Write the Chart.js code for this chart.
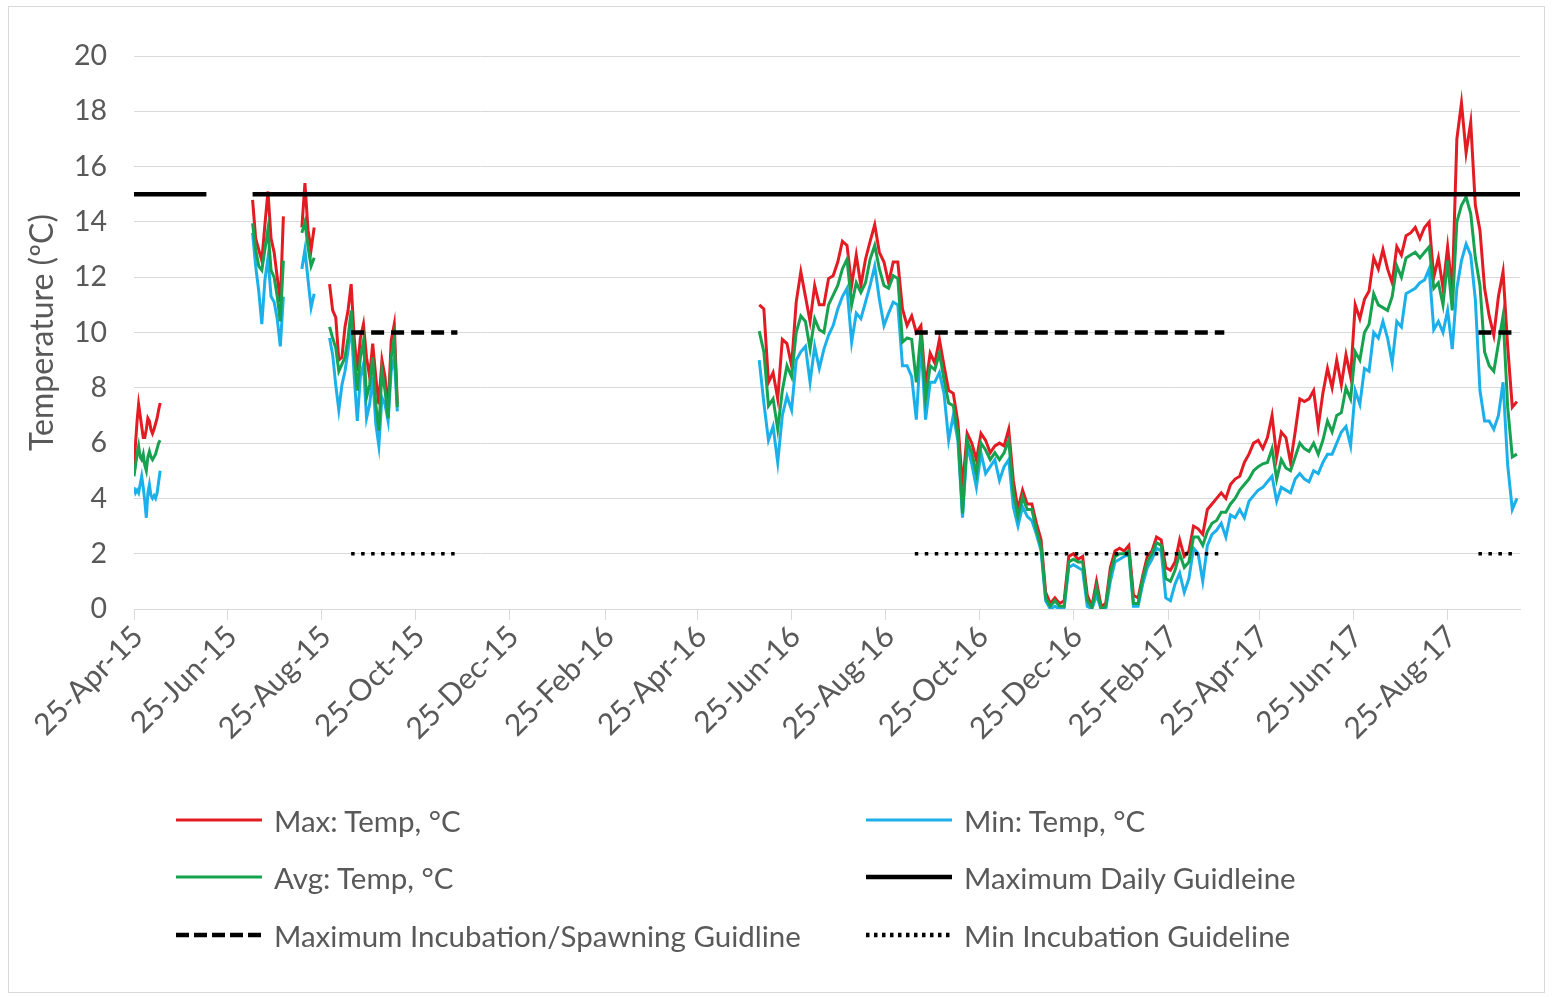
<!DOCTYPE html>
<html><head><meta charset="utf-8">
<script src="https://cdn.jsdelivr.net/npm/chart.js@4.4.0/dist/chart.umd.min.js"></script>
<style>
html,body{margin:0;padding:0;background:#fff;}
#frame{position:absolute;left:8px;top:6px;width:1537px;height:987px;border:1px solid #d9d9d9;box-sizing:border-box;}
canvas{position:absolute;left:0;top:0;}
.leg{position:absolute;display:flex;align-items:center;height:40px;font-family:Lato,sans-serif;font-size:29.5px;color:#595959;white-space:nowrap;}
.leg svg{margin-right:12px;flex:none;}
</style></head><body>
<div id="frame"></div>
<canvas id="c" width="1553" height="997"></canvas>
<div id="legend"></div>
<script>
// x values are days since 25-Apr-2015
const tickDays = [0,61,122,183,244,306,366,427,488,549,610,672,731,792,853];
const tickLabels = ['25-Apr-15','25-Jun-15','25-Aug-15','25-Oct-15','25-Dec-15','25-Feb-16','25-Apr-16','25-Jun-16','25-Aug-16','25-Oct-16','25-Dec-16','25-Feb-17','25-Apr-17','25-Jun-17','25-Aug-17'];
const yTicks = [0,2,4,6,8,10,12,14,16,18,20];

// logger segments: first day and sampling step (days)
const segStart = [0, 77, 109, 127, 406];
const segStep  = [1, 2, 2, 2, 3];

const maxTemp = [
 [5.1,6.0,6.8,7.4,7.0,6.6,6.2,6.2,6.5,6.9,6.8,6.5,6.35,6.5,6.7,6.9,7.2,7.45],
 [14.8,13.4,13.0,12.6,13.9,15.1,13.4,12.9,12.0,11.1,14.2],
 [13.8,15.4,13.7,13.0,13.8],
 [11.75,10.8,10.55,9.0,9.1,10.2,10.8,11.75,9.8,8.6,9.8,10.3,9.1,8.4,9.6,8.4,7.4,9.0,8.4,7.15,9.7,10.3,7.4],
 [11.0,10.85,8.2,8.55,7.6,9.75,9.6,8.8,11.1,12.2,
  11.3,10.4,11.7,11.0,11.0,11.95,12.05,12.55,13.3,13.15,
  11.7,12.8,11.7,12.65,13.3,13.9,12.9,12.55,11.8,12.55,
  12.55,10.85,10.25,10.6,10.0,10.25,8.05,9.25,8.9,9.75,
  8.8,7.9,7.8,6.75,4.4,6.35,6.0,5.4,6.35,6.1,
  5.65,5.9,6.0,5.9,6.5,4.65,3.6,4.3,3.8,3.8,
  3.1,2.5,0.6,0.2,0.4,0.2,0.3,1.9,2.0,1.8,
  1.9,0.5,0.1,1.0,0.1,0.2,1.5,2.1,2.2,2.1,
  2.3,0.5,0.4,1.2,1.9,2.1,2.6,2.5,1.5,1.4,
  1.7,2.5,1.9,2.1,3.0,2.9,2.7,3.6,3.8,4.0,
  4.2,4.0,4.5,4.7,4.8,5.3,5.6,6.0,6.1,5.8,
  6.2,7.0,5.5,6.4,6.2,5.3,6.4,7.6,7.5,7.6,
  7.9,6.6,7.8,8.7,8.0,9.0,8.1,9.2,8.4,11.0,
  10.5,11.2,11.5,12.7,12.3,13.0,12.3,11.8,13.1,12.8,
  13.5,13.6,13.8,13.4,13.8,14.0,12.0,12.7,11.6,13.1,
  11.5,17.0,18.3,16.5,17.6,14.6,13.7,11.6,10.6,9.9,
  11.3,12.2,9.5,7.3,7.5]
];
const minTemp = [
 [4.4,4.2,4.3,4.2,4.5,4.8,4.4,3.9,3.3,4.2,4.5,4.1,4.0,4.1,4.0,4.2,4.6,5.0],
 [13.6,12.4,11.5,10.3,11.9,12.7,11.3,11.1,10.5,9.5,11.3],
 [12.3,13.0,11.9,10.9,11.4],
 [9.8,9.2,8.1,7.2,8.1,8.6,9.35,10.3,8.4,6.8,8.4,8.85,6.9,7.4,8.4,6.7,5.9,7.65,7.4,6.8,8.6,9.1,7.15],
 [9.0,7.45,6.1,6.6,5.3,7.0,7.7,7.2,9.0,9.3,
  9.5,8.2,9.5,8.7,9.4,9.9,10.25,10.85,11.3,11.6,
  9.65,10.7,10.5,11.1,11.7,12.4,11.2,10.25,10.7,11.1,
  11.0,8.8,8.8,8.4,6.85,9.65,6.85,8.2,8.2,8.55,
  7.8,6.1,7.0,6.1,3.3,5.9,5.25,4.4,5.65,4.9,
  5.15,5.4,4.65,5.15,5.4,3.7,3.0,3.7,3.35,3.2,
  2.7,2.1,0.3,0.0,0.1,0.0,0.05,1.5,1.6,1.5,
  1.4,0.1,0.0,0.5,0.0,0.0,1.0,1.7,1.8,1.9,
  2.0,0.1,0.1,0.9,1.5,1.8,2.2,2.1,0.4,0.3,
  0.9,1.3,0.6,1.1,2.2,2.0,1.0,2.3,2.7,2.85,
  3.1,2.6,3.4,3.3,3.6,3.3,3.9,4.1,4.3,4.4,
  4.6,4.8,3.9,4.4,4.3,4.2,4.7,4.9,4.7,4.6,
  5.0,4.9,5.3,5.6,5.6,6.0,6.4,6.6,5.9,7.9,
  7.4,8.7,8.6,10.0,9.8,10.4,9.8,8.9,10.4,10.2,
  11.4,11.5,11.6,11.8,11.9,12.3,10.1,10.4,10.0,10.8,
  9.4,11.6,12.6,13.2,12.8,11.2,7.9,6.8,6.8,6.5,
  7.0,8.2,5.2,3.6,4.0]
];
const avgTemp = [
 [4.8,5.2,5.6,5.9,5.5,5.4,5.6,5.2,5.0,5.5,5.7,5.5,5.4,5.5,5.6,5.8,6.0,6.1],
 [13.95,13.0,12.4,12.25,13.0,13.75,12.25,12.0,11.3,10.4,12.6],
 [13.6,14.0,13.1,12.4,12.7],
 [10.2,9.8,9.45,8.6,8.85,9.1,9.8,10.8,9.2,7.9,9.1,9.7,7.65,8.1,9.1,7.4,6.45,8.6,7.9,6.9,9.1,9.8,7.3],
 [10.05,9.3,7.35,7.6,6.5,7.9,8.8,8.4,10.0,10.6,
  10.4,9.4,10.5,10.1,10.0,11.0,11.35,11.7,12.3,12.65,
  11.0,11.8,11.45,11.8,12.65,13.15,12.3,11.7,11.6,12.05,
  11.95,9.65,9.8,9.75,8.2,10.0,7.6,8.8,8.65,9.25,
  8.3,7.45,7.35,6.35,3.45,6.1,5.65,4.9,6.0,5.75,
  5.4,5.65,5.4,5.65,6.1,4.2,3.35,4.05,3.6,3.6,
  2.85,2.25,0.4,0.1,0.3,0.1,0.1,1.7,1.8,1.7,
  1.7,0.3,0.05,0.8,0.0,0.1,1.3,1.9,2.0,2.0,
  2.1,0.2,0.2,1.1,1.7,2.0,2.4,2.3,1.1,1.0,
  1.4,2.0,1.5,1.7,2.6,2.6,2.3,2.8,3.1,3.2,
  3.5,3.5,3.8,4.0,4.3,4.5,4.7,5.0,5.15,5.25,
  5.3,5.8,4.7,5.4,5.1,5.0,5.5,6.0,5.8,5.7,
  6.0,5.6,6.1,6.8,6.4,7.0,7.1,8.0,7.6,9.3,
  9.0,10.0,10.3,11.4,11.0,10.9,10.8,11.3,12.4,12.0,
  12.7,12.8,12.9,12.7,12.9,13.1,11.6,11.8,11.0,12.6,
  10.8,14.0,14.6,14.9,14.3,12.7,11.7,9.3,8.8,8.6,
  9.6,10.6,7.3,5.5,5.6]
];

// guidelines
const maxDailyGuide = 15;
const maxDailyPeriods = [[0,47],[77,900]];
const maxIncubationGuide = 10;
const minIncubationGuide = 2;
const incubationPeriods = [[141,210],[507,708],[873,897]];

const seriesLabels = ['Max: Temp, °C','Min: Temp, °C','Avg: Temp, °C','Maximum Daily Guidleine','Maximum Incubation/Spawning Guidline','Min Incubation Guideline'];

function buildSeries(segs){
  const pts=[];
  segs.forEach((vals,i)=>{
    if(i>0) pts.push({x:segStart[i]-0.5,y:null});
    vals.forEach((v,j)=>pts.push({x:segStart[i]+j*segStep[i],y:v}));
  });
  return pts;
}
function buildGuide(periods,val){
  const pts=[];
  periods.forEach((p,i)=>{
    if(i>0) pts.push({x:p[0]-0.5,y:null});
    pts.push({x:p[0],y:val},{x:p[1],y:val});
  });
  return pts;
}

const RED='#e31b23', BLUE='#1cb0ea', GREEN='#17a250', BLACK='#000000';
const datasets=[
 {label:seriesLabels[0],data:buildSeries(maxTemp),borderColor:RED,borderWidth:3,order:6},
 {label:seriesLabels[1],data:buildSeries(minTemp),borderColor:BLUE,borderWidth:3,order:5},
 {label:seriesLabels[2],data:buildSeries(avgTemp),borderColor:GREEN,borderWidth:3,order:4},
 {label:seriesLabels[3],data:buildGuide(maxDailyPeriods,maxDailyGuide),borderColor:BLACK,borderWidth:4.5,order:3},
 {label:seriesLabels[4],data:buildGuide(incubationPeriods,maxIncubationGuide),borderColor:BLACK,borderWidth:4.5,borderDash:[13,7],order:2},
 {label:seriesLabels[5],data:buildGuide(incubationPeriods,minIncubationGuide),borderColor:BLACK,borderWidth:3.5,borderDash:[3.5,6.5],order:1}
];

const chart=new Chart(document.getElementById('c'),{
  type:'line',
  data:{datasets},
  options:{
    responsive:false,animation:false,devicePixelRatio:1,
    layout:{padding:{left:0,right:33,top:56,bottom:248}},
    plugins:{legend:{display:false},tooltip:{enabled:false}},
    elements:{point:{radius:0},line:{tension:0,fill:false}},
    scales:{
      x:{type:'linear',min:0,max:900,
        afterBuildTicks:s=>{s.ticks=tickDays.map(v=>({value:v}));},
        ticks:{autoSkip:false,maxRotation:45,minRotation:45,padding:-1,labelOffset:4,color:'#595959',
          font:{family:'Lato',size:30},callback:(v,i)=>tickLabels[i]},
        grid:{drawOnChartArea:false,drawTicks:true,tickLength:11,color:'#d9d9d9'},
        border:{display:true,color:'#d9d9d9'},
        afterFit:s=>{s.height=140;}
      },
      y:{min:0,max:20,
        afterBuildTicks:s=>{s.ticks=yTicks.map(v=>({value:v}));},
        ticks:{padding:27,color:'#595959',font:{family:'Lato',size:28.5}},
        grid:{color:'#d9d9d9',drawTicks:false},
        border:{display:false},
        title:{display:true,text:'Temperature (ºC)',color:'#595959',font:{family:'Lato',size:32},padding:{top:23,bottom:0}},
        afterFit:s=>{s.width=134;}
      }
    }
  }
});

// legend (two columns, row-wise order as in the original)
const legCols=[176,866], legRows=[820,877,935];
const leg=document.getElementById('legend');
datasets.forEach((d,i)=>{
  const div=document.createElement('div');
  div.className='leg';
  div.style.left=legCols[i%2]+'px';
  div.style.top=(legRows[Math.floor(i/2)]-20)+'px';
  let dash='';
  if(i===4) dash='stroke-dasharray="13,5"';
  if(i===5) dash='stroke-dasharray="3.5,4.5"';
  const w = i>=3 ? 4.5 : 3;
  div.innerHTML='<svg width="86" height="12"><line x1="0" y1="6" x2="86" y2="6" stroke="'+d.borderColor+'" stroke-width="'+w+'" '+dash+'/></svg><span>'+d.label+'</span>';
  leg.appendChild(div);
});
</script>
</body></html>
